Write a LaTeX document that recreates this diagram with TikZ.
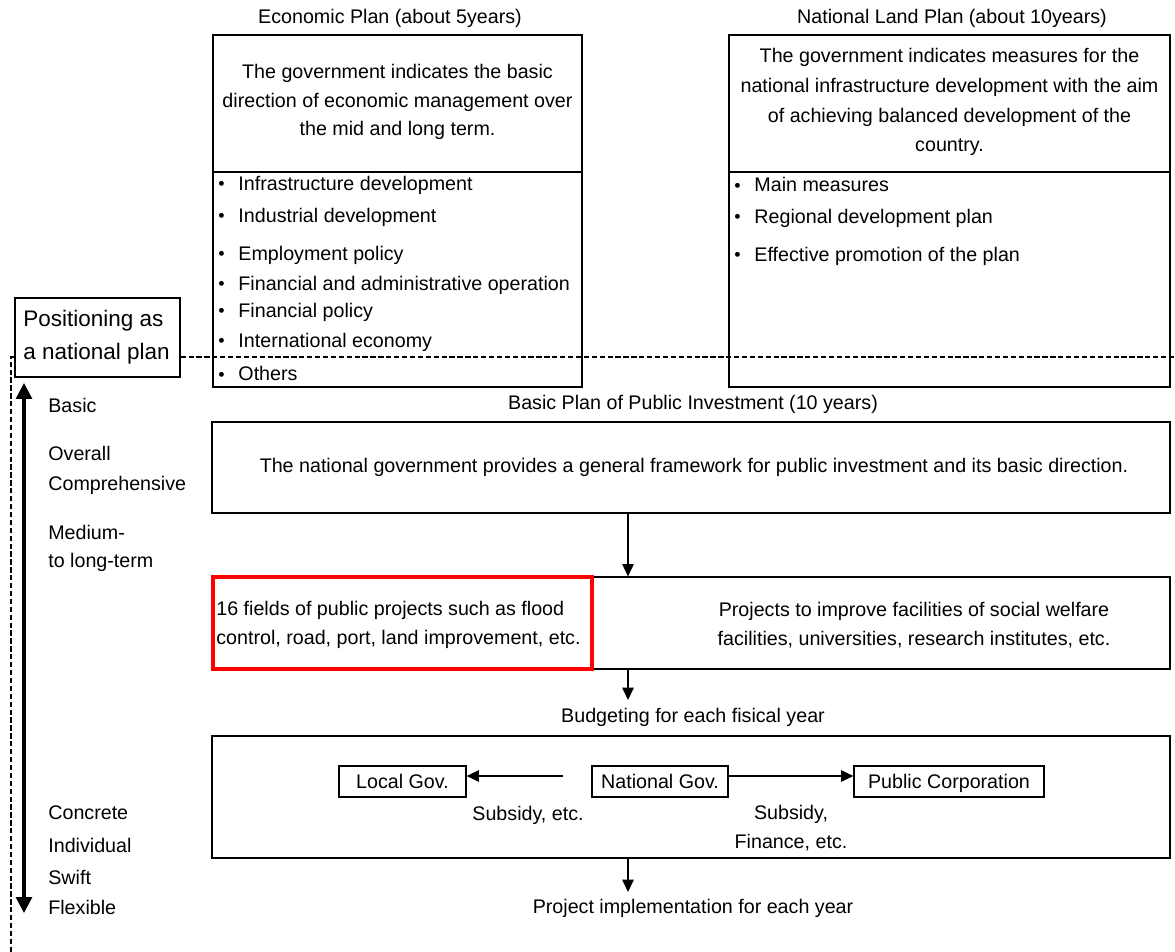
\documentclass[tikz,border=0pt]{standalone}
\usepackage{xcolor}
\usepackage{fontspec}
\setmainfont{Liberation Sans}
\newfontfamily\cjkfont{Noto Sans CJK JP}
\usetikzlibrary{arrows.meta}
\newcommand{\dotitem}{\raisebox{-1.6pt}{\cjkfont\fontsize{13}{13}\selectfont ・}\hspace{3pt}}

\begin{document}
\begin{tikzpicture}[x=0.02cm,y=-0.02cm,
  font=\fontsize{11.2}{16.4}\selectfont,
  box/.style={draw,line width=0.7pt,inner sep=0pt},
  govbox/.style={box,minimum height=0.62cm,text height=7.9pt,text depth=0pt},
  txt/.style={inner sep=0pt,align=center},
  item/.style={inner sep=0pt,anchor=west},
  side/.style={inner sep=0pt,anchor=west,align=left},
  dashline/.style={line width=0.75pt,dash pattern=on 3pt off 1.5pt},
  arr/.style={line width=0.8pt,-{Triangle[width=6.5pt,length=7pt]}}]
          \useasboundingbox (0,0) rectangle (1175,952);

          %plans at the top
          \node[txt] (ecotitle) at (390,18) {Economic Plan (about 5years)};
          \node[txt] (landtitle) at (952,18) {National Land Plan (about 10years)};
          \node[box,minimum width=7.38cm,minimum height=2.74cm] (ecohead) at (397.5,103.5) {};
          \node[box,minimum width=7.38cm,minimum height=4.3cm] (ecolist) at (397.5,279.5) {};
          \node[box,minimum width=8.82cm,minimum height=2.74cm] (landhead) at (949.5,103.5) {};
          \node[box,minimum width=8.82cm,minimum height=4.3cm] (landlist) at (949.5,279.5) {};
          \node[txt] (ecotext) at (397.5,102) {The government indicates the basic\\direction of economic management over\\the mid and long term.};
          \node[txt,font=\fontsize{11.2}{17}\selectfont] (landtext) at (949.5,102) {The government indicates measures for the\\national infrastructure development with the aim\\of achieving balanced development of the\\country.};
          \foreach \y/\t [count=\i] in {185/Infrastructure development,217/Industrial development,255/Employment policy,285/Financial and administrative operation,312/Financial policy,342/International economy,375/Others}
            \node[item] (eco\i) at (210,\y) {\dotitem\t};
          \foreach \y/\t [count=\i] in {186/Main measures,218/Regional development plan,256/Effective promotion of the plan}
            \node[item] (land\i) at (726,\y) {\dotitem\t};

          %positioning and scale on the left
          \node[box,minimum width=3.3cm,minimum height=1.58cm] (posbox) at (97.5,337.5) {};
          \node[side,font=\fontsize{12.8}{18.7}\selectfont] (postext) at (23,337) {Positioning as\\a national plan};
          \coordinate (dl) at (11,357);
          \coordinate (dr) at (1175,357);
          \coordinate (db) at (11,952);
          \draw[dashline] (db) -- (dl) -- (posbox.west |- dl);
          \draw[dashline] (posbox.east |- dl) -- (dr);
          \coordinate (axtop) at (24,383);
          \coordinate (axbot) at (24,913);
          \draw[line width=1.8pt,{Triangle[width=9pt,length=9pt]}-{Triangle[width=9pt,length=9pt]}] (axbot) -- (axtop);
          \node[side] (lbasic) at (48,405) {Basic};
          \node[side] (loverall) at (48,453) {Overall};
          \node[side] (lcomp) at (48,485) {Comprehensive};
          \node[side] (lmed) at (48,532) {Medium-};
          \node[side] (llong) at (48,562) {to long-term};
          \node[side] (lconc) at (48,813) {Concrete};
          \node[side] (lind) at (48,845) {Individual};
          \node[side] (lswift) at (48,877) {Swift};
          \node[side] (lflex) at (48,907) {Flexible};

          %public investment
          \node[txt] (basictitle) at (693,404) {Basic Plan of Public Investment (10 years)};
          \node[box,minimum width=19.16cm,minimum height=1.82cm] (basicbox) at (691,467.5) {};
          \node[txt] (basictext) at (694,467) {The national government provides a general framework for public investment and its basic direction.};
          \node[box,minimum width=19.16cm,minimum height=1.84cm] (projbox) at (691,623) {};
          \node[draw=red,line width=1.8pt,inner sep=0pt,minimum width=7.58cm,minimum height=1.84cm] (redbox) at (402.5,623) {};
          \node[side] (redtext) at (216,625) {16 fields of public projects such as flood\\control, road, port, land improvement, etc.};
          \node[txt] (projtext) at (914,625) {Projects to improve facilities of social welfare\\facilities, universities, research institutes, etc.};
          \coordinate (mid) at (628,0);
          \draw[arr] (basicbox.south -| mid) -- (projbox.north -| mid);

          %budget
          \coordinate (budtip) at (628,700);
          \draw[arr] (projbox.south -| mid) -- (budtip);
          \node[txt] (budtitle) at (693,717) {Budgeting for each fisical year};
          \node[box,minimum width=19.16cm,minimum height=2.44cm] (budbox) at (691,797) {};
          \node[govbox,minimum width=2.54cm] (localgov) at (402.5,781.5) {Local Gov.};
          \node[govbox,minimum width=2.72cm] (natgov) at (660,781.5) {National Gov.};
          \node[govbox,minimum width=3.8cm] (pubcorp) at (949,781.5) {Public Corporation};
          \coordinate (lgstart) at (563,776);
          \draw[arr] (lgstart) -- (localgov.east |- lgstart);
          \draw[arr] ([yshift=0.11cm]natgov.east) -- ([yshift=0.11cm]pubcorp.west);
          \node[txt] (sub1) at (528,815) {Subsidy, etc.};
          \node[txt] (sub2) at (791,828) {Subsidy,\\Finance, etc.};

          %implementation
          \coordinate (imptip) at (628,892);
          \draw[arr] (budbox.south -| mid) -- (imptip);
          \node[txt] (imptitle) at (693,908) {Project implementation for each year};
          \end{tikzpicture}
\end{document}
